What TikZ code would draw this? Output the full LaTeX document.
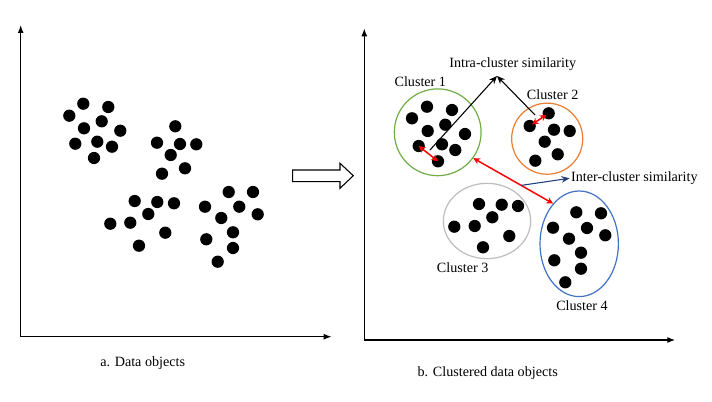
\documentclass[tikz,border=0pt]{standalone}
\usepackage{fontspec}
\setmainfont{Liberation Serif}
\usetikzlibrary{arrows.meta,shapes.geometric}

\definecolor{clgreen}{HTML}{70AD47}
\definecolor{clorange}{HTML}{ED7D31}
\definecolor{clgray}{HTML}{BDBDBD}
\definecolor{clblue}{HTML}{4472C4}
\definecolor{navy}{HTML}{1F3F7A}

\begin{document}
\begin{tikzpicture}[
  x=0.75pt, y=-0.75pt,
  font=\fontsize{10.6}{12}\selectfont,
  dot/.style={circle, fill=black, inner sep=0pt, minimum size=9.2pt},
  ring/.style={ellipse, draw, line width=0.9pt, inner sep=0pt},
  axis/.style={{Latex[length=6pt,width=4.5pt]}-{Latex[length=6pt,width=4.5pt]}, line width=1pt},
    sim/.style={-{Stealth[length=6pt,width=5pt]}, line width=0.8pt},
  pair/.style={{Stealth[length=5pt,width=5pt]}-{Stealth[length=5pt,width=5pt]}, red, line width=1.1pt}
]
\fill[white] (0,0) rectangle (712,402);
\useasboundingbox (0,0) rectangle (712,402);

% a. data objects
\coordinate (ytopA) at (20.7,25);
\coordinate (xendA) at (331.7,336.7);
\draw[axis] (ytopA) |- (xendA);
\node (capA) at (142.7,363) {a. Data objects};

\node[dot] (l1) at (69.3,115.7) {};  \node[dot] (l2) at (83.3,103.7) {};  \node[dot] (l3) at (108.3,107) {};
\node[dot] (l4) at (101.7,121.3) {}; \node[dot] (l5) at (84,128.3) {};    \node[dot] (l6) at (120.3,130.7) {};
\node[dot] (l7) at (75.3,143.7) {};  \node[dot] (l8) at (97.3,141.7) {};  \node[dot] (l9) at (112,146.7) {};
\node[dot] (l10) at (94,158) {};
\node[dot] (l11) at (175.3,126.3) {}; \node[dot] (l12) at (157,142.7) {}; \node[dot] (l13) at (180,144) {};
\node[dot] (l14) at (196.3,144.3) {}; \node[dot] (l15) at (170.7,155) {}; \node[dot] (l16) at (185,168.3) {};
\node[dot] (l17) at (162,173.7) {};
\node[dot] (l18) at (134.7,201) {};  \node[dot] (l19) at (157.3,202) {};  \node[dot] (l20) at (174,203.3) {};
\node[dot] (l21) at (148.3,214) {};  \node[dot] (l22) at (110.3,223.7) {}; \node[dot] (l23) at (130.3,222.7) {};
\node[dot] (l24) at (165.3,232.7) {}; \node[dot] (l25) at (139,245.7) {};
\node[dot] (l26) at (228.7,192) {};  \node[dot] (l27) at (253,192) {};    \node[dot] (l28) at (205,206.7) {};
\node[dot] (l29) at (239.3,206.7) {}; \node[dot] (l30) at (257.7,214.3) {}; \node[dot] (l31) at (221.3,218) {};
\node[dot] (l32) at (233,232.3) {};  \node[dot] (l33) at (206.3,239.3) {}; \node[dot] (l34) at (233,248) {};
\node[dot] (l35) at (217.7,261.7) {};

% hollow arrow between the panels
\draw[line width=0.8pt] (292.7,170) -- (340,170) -- (340,163.3) -- (353.3,175.7)
  -- (340,188.3) -- (340,181.7) -- (292.7,181.7) -- cycle;

% b. clustered data objects
\coordinate (ytopB) at (364.3,28.3);
\coordinate (xendB) at (675.3,340);
\draw[axis] (ytopB) |- (xendB);
\node (capB) at (487.7,372.7) {b. Clustered data objects};

\node[ring, draw=clgreen, minimum width=65.1pt, minimum height=65.1pt] (cl1) at (437.7,132.3) {};
\node[ring, draw=clorange, minimum width=53.3pt, minimum height=53.3pt] (cl2) at (547.2,138.7) {};
\node[ring, draw=clgray, minimum width=65.5pt, minimum height=56.5pt] (cl3) at (487,221) {};
\node[ring, draw=clblue, minimum width=58.8pt, minimum height=79.2pt] (cl4) at (579.2,243.8) {};

\node (lab1) at (420.3,81.7) {Cluster 1};
\node (lab2) at (552.7,95) {Cluster 2};
\node (lab3) at (462.7,267.7) {Cluster 3};
\node (lab4) at (582,305.7) {Cluster 4};

\node[dot] (r1) at (412,118.3) {};   \node[dot] (r2) at (427,106.7) {};   \node[dot] (r3) at (452,110) {};
\node[dot] (r4) at (445.3,124.7) {}; \node[dot] (r5) at (427.7,131) {};   \node[dot] (r6) at (465,134) {};
\node[dot] (r7) at (418.7,146) {};   \node[dot] (r8) at (442,144.3) {};   \node[dot] (r9) at (455.3,150) {};
\node[dot] (r10) at (438,161.3) {};
\node[dot] (r11) at (548.7,113.3) {}; \node[dot] (r12) at (529.7,126) {}; \node[dot] (r13) at (554,129.7) {};
\node[dot] (r14) at (569.7,131) {};  \node[dot] (r15) at (544.7,141.7) {}; \node[dot] (r16) at (557.7,154.3) {};
\node[dot] (r17) at (535.3,160.7) {};
\node[dot] (r18) at (479,204) {};    \node[dot] (r19) at (501.7,204.7) {}; \node[dot] (r20) at (518,206) {};
\node[dot] (r21) at (492.3,217.3) {}; \node[dot] (r22) at (454.3,226.7) {}; \node[dot] (r23) at (474.7,226) {};
\node[dot] (r24) at (509.3,236) {};  \node[dot] (r25) at (483,247.3) {};
\node[dot] (r26) at (576.3,212.3) {}; \node[dot] (r27) at (601,213.3) {}; \node[dot] (r28) at (553,227.7) {};
\node[dot] (r29) at (587,228) {};    \node[dot] (r30) at (605.3,235.3) {}; \node[dot] (r31) at (569,238.7) {};
\node[dot] (r32) at (581,252.7) {};  \node[dot] (r33) at (554.3,260.3) {}; \node[dot] (r34) at (581,268.7) {};
\node[dot] (r35) at (565.3,282.3) {};

% similarity labels and arrows
\node (intra) at (512.7,64) {Intra-cluster similarity};
\node[inner sep=1pt, anchor=west] (inter) at (569.5,178.3) {Inter-cluster similarity};
\coordinate (apex) at (497,76);
\coordinate (tail1) at (430,150);
\coordinate (tail2) at (535,115);

\draw[sim] (tail1) -- (apex);
\draw[sim] (tail2) -- (apex);
\draw[pair] (r7.center) -- (r10.center);
\draw[pair, shorten <=2pt, shorten >=2pt] (r12.center) -- (r11.center);
\draw[pair] (cl1.-36) -- coordinate[pos=0.6] (mid) (cl4.123);
\draw[sim, navy] (mid) -- (inter.west);
\end{tikzpicture}
\end{document}
